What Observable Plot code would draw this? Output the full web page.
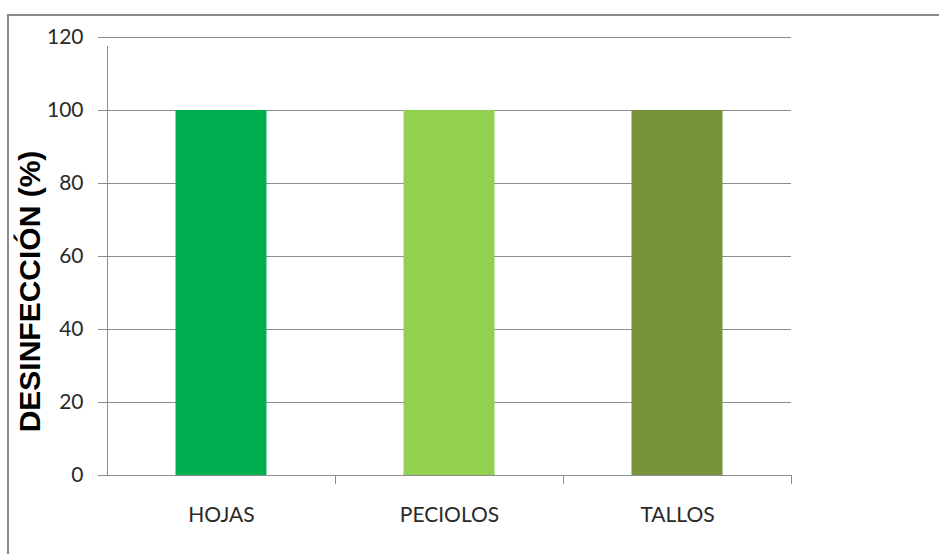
<!DOCTYPE html>
<html><head><meta charset="utf-8">
<script src="https://cdn.jsdelivr.net/npm/d3@7"></script>
<script src="https://cdn.jsdelivr.net/npm/@observablehq/plot@0.6"></script>
<style>
html,body{margin:0;padding:0;background:#fff;}
#wrap{position:relative;width:939px;height:554px;overflow:hidden;}
#frame{position:absolute;left:7px;top:14px;width:1000px;height:1000px;border-top:2px solid #8a8a8a;border-left:2px solid #8a8a8a;box-sizing:border-box;pointer-events:none;}
</style>
</head><body>
<div id="wrap"><div id="frame"></div></div>
<script>
const categories = ["HOJAS", "PECIOLOS", "TALLOS"];
const values = [100, 100, 100];
const colors = ["#00B050", "#92D050", "#77933C"];
const yTicks = [0, 20, 40, 60, 80, 100, 120];
const yTitle = "DESINFECCIÓN (%)";

const data = categories.map((c, i) => ({cat: c, val: values[i], color: colors[i]}));
const W = 939, H = 554, mL = 107, mR = 148, mT = 37, mB = 79;
const step = (W - mL - mR) / categories.length;
const barW = 91;
const inset = (step - barW) / 2;
const grid = "#8e8e8e";

const chart = Plot.plot({
  width: W, height: H,
  marginLeft: mL, marginRight: mR, marginTop: mT, marginBottom: mB,
  style: {fontFamily: "Lato, 'Open Sans', sans-serif", background: "transparent"},
  x: {domain: categories, padding: 0, label: null},
  y: {domain: [0, 120], label: null},
  marks: [
    Plot.gridY(yTicks, {stroke: grid, strokeOpacity: 1}),
    Plot.axisY(yTicks, {tickSize: 9, tickPadding: 15, fontSize: 21, color: "#2a2a2a", stroke: grid, label: null}),
    Plot.barY(data, {x: "cat", y: "val", fill: "color", insetLeft: inset, insetRight: inset}),
    Plot.ruleY([0], {stroke: grid}),
    Plot.ruleX([categories[0]], {x: d => d, dx: -step / 2, y1: 0, y2: 120, insetBottom: -9, stroke: grid}),
    Plot.ruleX(categories, {x: d => d, dx: step / 2, y1: 0, y2: 0, insetBottom: -9, stroke: grid}),
    Plot.axisX({tickSize: 0, tickPadding: 32, fontSize: 21, color: "#2a2a2a", label: null}),
    Plot.text([yTitle], {frameAnchor: "left", textAnchor: "middle", dx: -77, dy: 35, rotate: -90, fontSize: 30, fontWeight: "bold", fontFamily: "'Liberation Sans', Arial, sans-serif", fill: "#000"})
  ]
});
chart.style.position = "absolute";
chart.style.left = "0px";
chart.style.top = "0px";
document.getElementById("wrap").appendChild(chart);
</script>
</body></html>
